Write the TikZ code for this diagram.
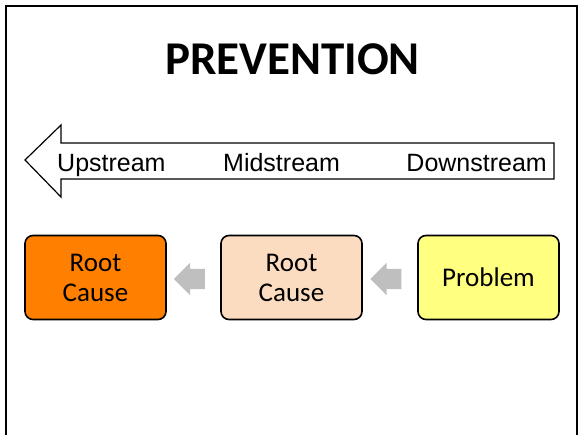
\documentclass[tikz,border=0pt]{standalone}
\usepackage{fontspec}
\setmainfont{Carlito}
\newfontfamily\arialf{Liberation Sans}
\usetikzlibrary{shapes.arrows}
\definecolor{rcorange}{HTML}{FF8000}
\definecolor{rcpeach}{HTML}{FBDCC0}
\definecolor{probyellow}{HTML}{FFFF80}
\definecolor{arrgray}{HTML}{BFBFBF}
\begin{document}
\begin{tikzpicture}[x=1pt,y=-1pt,
 box/.style={draw=black, line width=1.6pt, rounded corners=8pt, minimum width=141pt, minimum height=84pt, align=center, inner sep=0pt, font=\fontsize{27}{30}\selectfont},
 streamlabel/.style={inner sep=0pt, font=\arialf\fontsize{25}{30}\selectfont},
 grayarrow/.style={single arrow, fill=arrgray, shape border rotate=180, minimum height=31pt, minimum width=32pt, inner xsep=0pt, inner ysep=10pt, single arrow head extend=6pt}]
\useasboundingbox (0,0) rectangle (581,434);
\draw[line width=2pt] (6,6) rectangle (577,450);
\node[anchor=base, font=\bfseries\fontsize{47}{50}\selectfont, inner sep=0pt] (title) at (292.5,74) {PREVENTION};
\draw[line width=1.2pt, fill=white] (25,160) -- (61,125) -- (61,143) -- (554,143) -- (554,179) -- (61,179) -- (61,197) -- cycle;
\node[streamlabel, anchor=base west] (up) at (57,171) {Upstream};
\node[streamlabel, anchor=base west] (mid) at (223,171) {Midstream};
\node[streamlabel, anchor=base east] (down) at (547,171) {Downstream};
\node[box, fill=rcorange] (rc1) at (95.5,277.5) {Root\\Cause};
\node[box, fill=rcpeach] (rc2) at (291.5,277.5) {Root\\Cause};
\node[box, fill=probyellow] (prob) at (488.5,277.5) {Problem};
\node[grayarrow] (a1) at (194.5,279) {};
\node[grayarrow] (a2) at (391,279) {};
\end{tikzpicture}
\end{document}
